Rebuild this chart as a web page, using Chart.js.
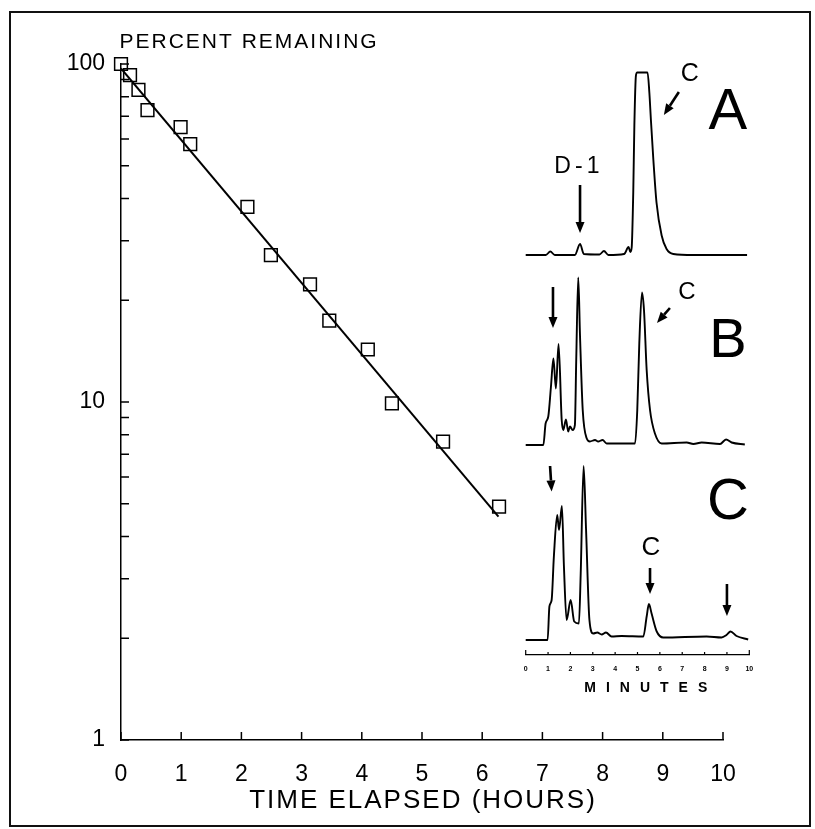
<!DOCTYPE html>
<html>
<head>
<meta charset="utf-8">
<script src="https://cdn.jsdelivr.net/npm/chart.js@4.4.1/dist/chart.umd.min.js"></script>
<style>
  html, body { margin: 0; padding: 0; background: #fff; }
  #wrap { position: relative; width: 815px; height: 829px; }
  #wrap canvas { position: absolute; left: 0; top: 0; }
</style>
</head>
<body>
<div id="wrap">
  <canvas id="main" width="815" height="829"></canvas>
  <canvas id="inset" width="815" height="829"></canvas>
</div>
<script>
// decay of compound C
const hours = [0, 0.15, 0.29, 0.44, 0.99, 1.15, 2.10, 2.49, 3.14, 3.46, 4.10, 4.50, 5.35, 6.28];
const percent = [100, 92.7, 83.8, 73, 65, 57.9, 37.8, 27.2, 22.3, 17.4, 14.3, 9.9, 7.63, 4.9];
const fitHours = [0, 6.27];
const fitPercent = [97, 4.58];
const hourTicks = [0, 1, 2, 3, 4, 5, 6, 7, 8, 9, 10];
const percentTicks = [1, 2, 3, 4, 5, 6, 7, 8, 9, 10, 20, 30, 40, 50, 60, 70, 80, 90, 100];
const percentLabels = [1, 10, 100];

// chromatograms A, B, C (minutes, detector response)
const minuteTicks = [0, 1, 2, 3, 4, 5, 6, 7, 8, 9, 10];
const minA = [0, 0.9, 1.1, 1.3, 2.2, 2.43, 2.6, 3.3, 3.5, 3.7, 4.4, 4.6, 4.68, 4.74, 4.81, 4.86, 4.93, 4.99, 5.45, 5.53, 5.6, 5.71, 5.85, 6.08, 6.3, 6.6, 7.5, 9.9];
const respA = [0, 0, 0.7, 0, 0, 2.2, 0.2, 0.1, 0.8, 0, 0.2, 1.6, 0.6, 1.5, 12.5, 26, 35.9, 36.5, 36.5, 32.5, 27, 19, 10.5, 3.9, 1.2, 0.2, 0, 0];
const minB = [0, 0.79, 0.89, 1.01, 1.13, 1.24, 1.35, 1.47, 1.61, 1.68, 1.8, 1.9, 1.98, 2.1, 2.2, 2.26, 2.35, 2.43, 2.55, 2.73, 2.87, 3.1, 3.24, 3.44, 3.62, 4.89, 4.99, 5.08, 5.2, 5.29, 5.41, 5.56, 5.78, 6.08, 7.2, 7.5, 7.87, 8.69, 8.96, 9.21, 9.8];
const respB = [0, 0, 4.3, 5.7, 11.7, 17.3, 11.3, 20.2, 5, 3, 5.1, 2.7, 3.7, 3, 4, 17, 33.5, 21.7, 7, 1.3, 0.7, 1, 0.7, 1, 0.3, 0.3, 7, 20.3, 30.5, 27, 15, 7, 2.3, 0.3, 0.5, 0.2, 0.5, 0.2, 1.1, 0.5, 0.1];
const minC = [0, 0.98, 1.06, 1.16, 1.26, 1.41, 1.49, 1.62, 1.71, 1.83, 2.01, 2.17, 2.38, 2.46, 2.59, 2.7, 2.85, 3.02, 3.2, 3.4, 3.59, 3.84, 4.29, 5.26, 5.41, 5.51, 5.63, 5.86, 6.15, 8.09, 8.76, 8.98, 9.16, 9.43, 9.95];
const respC = [0, 0, 6.7, 8, 16.7, 25, 22, 26.8, 14.7, 4, 8, 3.7, 3.3, 13.3, 34.8, 22, 4, 1.3, 1.5, 1.1, 1.5, 0.7, 0.8, 0.7, 4.7, 7.2, 5.3, 1.7, 0.5, 0.7, 0.5, 1, 1.7, 0.8, 0.1];

// vertical offsets of the stacked traces
const offA = 80, offB = 42, offC = 3;

const FONT = '"Liberation Sans", Arial, Helvetica, sans-serif';

function pts(xs, ys, off) {
    return xs.map((x, i) => ({ x: x, y: ys[i] + (off || 0) }));
}

// ticks pointing into the plot
const inwardTicks = {
    id: 'inwardTicks',
    afterDraw(chart, args, opts) {
        const ctx = chart.ctx;
        const x = chart.scales.x, y = chart.scales.y;
        ctx.save();
        ctx.strokeStyle = '#000';
        ctx.lineWidth = opts.width;
        ctx.beginPath();
        x.ticks.forEach((t, i) => {
            const px = x.getPixelForValue(t.value);
            const len = (i === 0 || i === x.ticks.length - 1) ? opts.endLen : opts.len;
            ctx.moveTo(px, x.top);
            ctx.lineTo(px, x.top - len);
        });
        if (y.options.display) {
            y.ticks.forEach(t => {
                const py = y.getPixelForValue(t.value);
                ctx.moveTo(y.right, py);
                ctx.lineTo(y.right + opts.len, py);
            });
        }
        ctx.stroke();
        ctx.restore();
    }
};

function spaced(ctx, s, x, y, sp) {
    ctx.letterSpacing = sp + 'px';
    const w = ctx.measureText(s).width;
    ctx.textAlign = 'left';
    ctx.fillText(s, x - w / 2 + sp / 2, y);
    ctx.letterSpacing = '0px';
}

const mainText = {
    id: 'mainText',
    afterDraw(chart) {
        const ctx = chart.ctx, a = chart.chartArea;
        const y = chart.scales.y;
        ctx.save();
        ctx.fillStyle = '#000';
        ctx.textBaseline = 'alphabetic';
        ctx.font = '21px ' + FONT;
        ctx.letterSpacing = '2px';
        ctx.textAlign = 'left';
        ctx.fillText('PERCENT REMAINING', a.left - 1.5, y.getPixelForValue(100) - 16);
        ctx.letterSpacing = '0px';
        ctx.font = '26px ' + FONT;
        ctx.textBaseline = 'middle';
        spaced(ctx, 'TIME ELAPSED (HOURS)', (a.left + a.right) / 2, 801, 2);
        // frame
        ctx.strokeStyle = '#111';
        ctx.lineWidth = 2;
        ctx.strokeRect(10, 12, 800, 814);
        ctx.restore();
    }
};

function arrow(ctx, x1, y1, x2, y2) {
    const ang = Math.atan2(y2 - y1, x2 - x1), head = 11, half = 4.5;
    const bx = x2 - head * Math.cos(ang), by = y2 - head * Math.sin(ang);
    ctx.lineWidth = 2.6;
    ctx.beginPath(); ctx.moveTo(x1, y1); ctx.lineTo(bx, by); ctx.stroke();
    ctx.beginPath();
    ctx.moveTo(x2, y2);
    ctx.lineTo(bx + half * Math.sin(ang), by - half * Math.cos(ang));
    ctx.lineTo(bx - half * Math.sin(ang), by + half * Math.cos(ang));
    ctx.closePath(); ctx.fill();
}

const insetNotes = {
    id: 'insetNotes',
    afterDraw(chart) {
        const ctx = chart.ctx;
        const x = chart.scales.x, y = chart.scales.y;
        const px = m => x.getPixelForValue(m), py = u => y.getPixelForValue(u);
        ctx.save();
        ctx.fillStyle = '#000';
        ctx.strokeStyle = '#000';
        ctx.textBaseline = 'middle';
        ctx.textAlign = 'center';
        const txt = (s, m, u, size, sp) => {
            ctx.font = size + 'px ' + FONT;
            spaced(ctx, s, px(m), py(u), sp || 0);
        };
        // panel letters
        txt('A', 9.04, 108.5, 58);
        txt('B', 9.04, 62.6, 56);
        txt('C', 9.04, 30.4, 58);
        // peak labels
        txt('D-1', 2.29, 97.6, 23, 4);
        txt('C', 7.34, 116.2, 25);
        txt('C', 7.21, 72.6, 24);
        txt('C', 5.6, 21.4, 26);
        // arrows
        arrow(ctx, px(2.43), py(94), px(2.43), py(84.4));
        arrow(ctx, px(6.85), py(112.6), px(6.18), py(108));
        arrow(ctx, px(1.22), py(73.6), px(1.22), py(65.4));
        arrow(ctx, px(6.45), py(69.4), px(5.87), py(66.4));
        arrow(ctx, px(1.09), py(37.8), px(1.16), py(32.7));
        arrow(ctx, px(5.56), py(17.4), px(5.56), py(12.2));
        arrow(ctx, px(9.0), py(14.2), px(9.0), py(7.8));
        // axis title
        ctx.font = 'bold 14px ' + FONT;
        spaced(ctx, 'MINUTES', px(5.37), 688, 10);
        ctx.restore();
    }
};

new Chart(document.getElementById('main'), {
    type: 'scatter',
    data: {
        datasets: [
            {
                type: 'line',
                data: pts(fitHours, fitPercent),
                borderColor: '#000',
                borderWidth: 2,
                pointRadius: 0,
                fill: false
            },
            {
                data: pts(hours, percent),
                pointStyle: 'rect',
                pointRadius: 9,
                pointBorderWidth: 1.5,
                pointBorderColor: '#000',
                pointBackgroundColor: 'rgba(0,0,0,0)',
                showLine: false,
                clip: false
            }
        ]
    },
    options: {
        responsive: false,
        animation: false,
        devicePixelRatio: 1,
        layout: { padding: { left: 0, right: 92, top: 64, bottom: 0 } },
        plugins: {
            legend: { display: false },
            tooltip: { enabled: false },
            inwardTicks: { len: 8, endLen: 8, width: 1.5 }
        },
        scales: {
            x: {
                type: 'linear', min: 0, max: 10,
                afterBuildTicks: s => { s.ticks = hourTicks.map(v => ({ value: v })); },
                afterFit: s => { s.height = 89; },
                grid: { display: false },
                border: { display: true, color: '#000', width: 1.5 },
                ticks: { color: '#000', font: { family: FONT, size: 23 }, padding: 13, autoSkip: false, maxRotation: 0 }
            },
            y: {
                type: 'logarithmic', min: 1, max: 100,
                afterBuildTicks: s => { s.ticks = percentTicks.map(v => ({ value: v })); },
                afterFit: s => { s.width = 121; },
                grid: { display: false },
                border: { display: true, color: '#000', width: 1.5 },
                ticks: {
                    color: '#000', font: { family: FONT, size: 23 }, padding: 8, autoSkip: false,
                    callback: v => percentLabels.includes(v) ? String(v) : ''
                }
            }
        }
    },
    plugins: [inwardTicks, mainText]
});

const trace = (xs, ys, off) => ({
    data: pts(xs, ys, off),
    borderColor: '#000',
    borderWidth: 1.9,
    pointRadius: 0,
    showLine: true,
    fill: false,
    cubicInterpolationMode: 'monotone',
    clip: false
});

new Chart(document.getElementById('inset'), {
    type: 'scatter',
    data: { datasets: [trace(minA, respA, offA), trace(minB, respB, offB), trace(minC, respC, offC)] },
    options: {
        responsive: false,
        animation: false,
        devicePixelRatio: 1,
        layout: { padding: { left: 525.7, right: 65.7, top: 60, bottom: 0 } },
        plugins: {
            legend: { display: false },
            tooltip: { enabled: false },
            inwardTicks: { len: 3, endLen: 5, width: 1.2 }
        },
        scales: {
            x: {
                type: 'linear', min: 0, max: 10,
                afterBuildTicks: s => { s.ticks = minuteTicks.map(v => ({ value: v })); },
                afterFit: s => { s.height = 174; },
                grid: { display: false },
                border: { display: true, color: '#000', width: 1.3 },
                ticks: { color: '#000', font: { family: FONT, size: 7, weight: 'bold' }, padding: 2, autoSkip: false, maxRotation: 0 }
            },
            y: { type: 'linear', min: 0, max: 119, display: false }
        }
    },
    plugins: [inwardTicks, insetNotes]
});
</script>
</body>
</html>
